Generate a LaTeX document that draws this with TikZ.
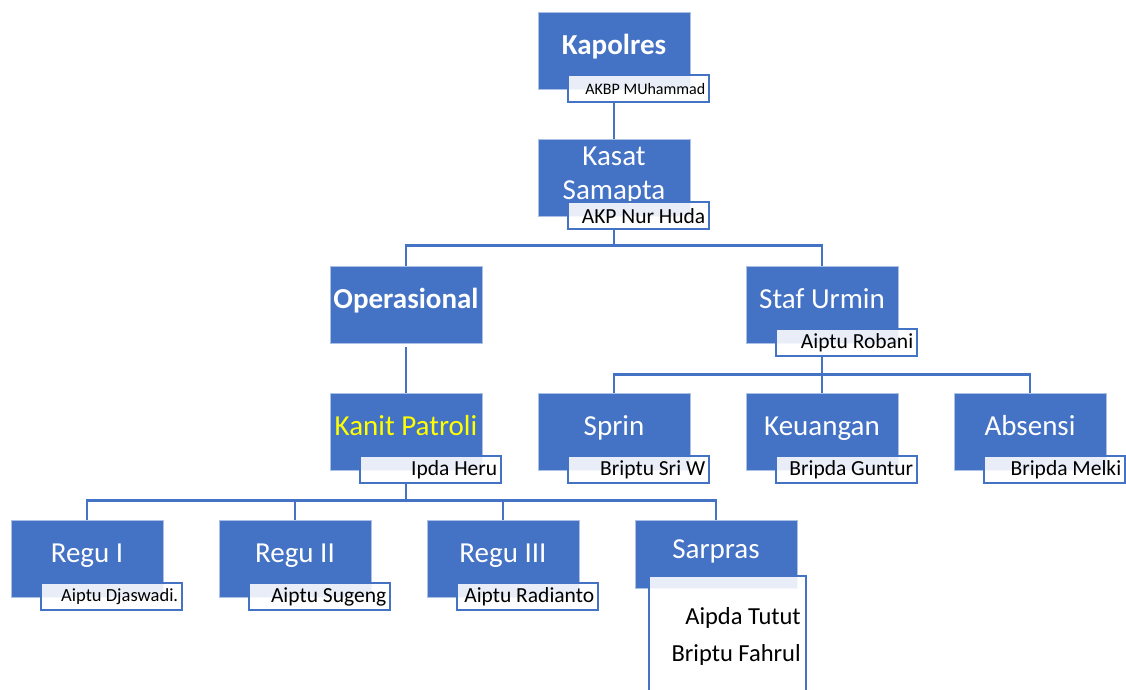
\documentclass[tikz,border=0pt]{standalone}
\usepackage{fontspec}
\setmainfont{Carlito}
\usetikzlibrary{positioning}
\definecolor{orgblue}{HTML}{4472C4}
\definecolor{orgyellow}{HTML}{FFFF00}

\begin{document}
\begin{tikzpicture}[x=1pt, y=-1pt,
    role/.style={fill=orgblue, draw=orgblue!45!white, line width=0.6pt, text=white,
                 minimum width=152pt, minimum height=77pt, inner sep=0pt, align=center,
                 text height=21pt, text depth=13pt,
                 font=\fontsize{29}{34}\selectfont},
    who/.style={draw=orgblue, line width=2pt, fill=white, fill opacity=0.88, text opacity=1,
                text width=134pt, inner xsep=3.5pt, inner ysep=0pt, minimum height=27pt,
                align=flush right, anchor=north west, font=\fontsize{21.5}{25}\selectfont},
    link/.style={draw=orgblue, line width=2.4pt}]
  \useasboundingbox (0,0) rectangle (1126,689);

  % top of the chart
  \node[role, font=\fontsize{29}{34}\selectfont\bfseries] (kapolres) at (614, 50.5) {Kapolres};
  \node[who, font=\fontsize{16}{20}\selectfont] (kapolresN)
        at ([xshift=29pt, yshift=15pt]kapolres.south west) {AKBP MUhammad};
  \node[role, text height=56pt] (kasat) at (614, 177.5) {Kasat\\Samapta};
  \node[who] (kasatN) at ([xshift=29pt, yshift=15pt]kasat.south west) {AKP Nur Huda};

  % second level
  \node[role, font=\fontsize{29}{34}\selectfont\bfseries] (ops) at (406, 304.5) {Operasional};
  \node[role] (staf) at (822, 304.5) {Staf Urmin};
  \node[who] (stafN) at ([xshift=29pt, yshift=15pt]staf.south west) {Aiptu Robani};

  \node[role, text=orgyellow] (kanit) at (406, 431.5) {Kanit Patroli};
  \node[who] (kanitN) at ([xshift=29pt, yshift=15pt]kanit.south west) {Ipda Heru};

  % staff units
  \foreach \n/\x/\t/\w in {sprin/614/Sprin/Briptu Sri W,
                           uang/822/Keuangan/Bripda Guntur,
                           absen/1030/Absensi/Bripda Melki} {
    \node[role] (\n) at (\x, 431.5) {\t};
    \node[who] (\n N) at ([xshift=29pt, yshift=15pt]\n.south west) {\w};
  }

  % regu row
  \node[role] (reguA) at (87, 558.5) {Regu I};
  \node[who, font=\fontsize{18.5}{22}\selectfont] (reguAN)
        at ([xshift=29pt, yshift=15pt]reguA.south west) {Aiptu Djaswadi.};
  \node[role] (reguB) at (295, 558.5) {Regu II};
  \node[who] (reguBN) at ([xshift=29pt, yshift=15pt]reguB.south west) {Aiptu Sugeng};
  \node[role] (reguC) at (503, 558.5) {Regu III};
  \node[who] (reguCN) at ([xshift=29pt, yshift=15pt]reguC.south west) {Aiptu Radianto};
  \node[role, minimum width=162pt, minimum height=68pt] (sarpras) at (716, 554) {Sarpras};
  \node[who, text width=147pt, inner xsep=5pt, minimum height=120pt,
        font=\fontsize{24.5}{37}\selectfont] (sarprasN)
        at ([xshift=13pt, yshift=13pt]sarpras.south west) {Aipda Tutut\\Briptu Fahrul};

  % connectors
  \draw[link] (kapolres.south |- kapolresN.south) -- (kasat.north);
  \draw[link] (kasat.south |- kasatN.south) -- ++(0,15) -| (ops.north);
  \draw[link] (kasat.south |- kasatN.south) -- ++(0,15) -| (staf.north);
  \draw[link] ([yshift=-4pt]ops.south) -- (kanit.north);
  \foreach \n in {sprin,uang,absen}
    \draw[link] (staf.south |- stafN.south) -- ++(0,17) -| (\n.north);
  \foreach \n in {reguA,reguB,reguC,sarpras}
    \draw[link] (kanit.south |- kanitN.south) -- ++(0,16) -| (\n.north);
\end{tikzpicture}
\end{document}
